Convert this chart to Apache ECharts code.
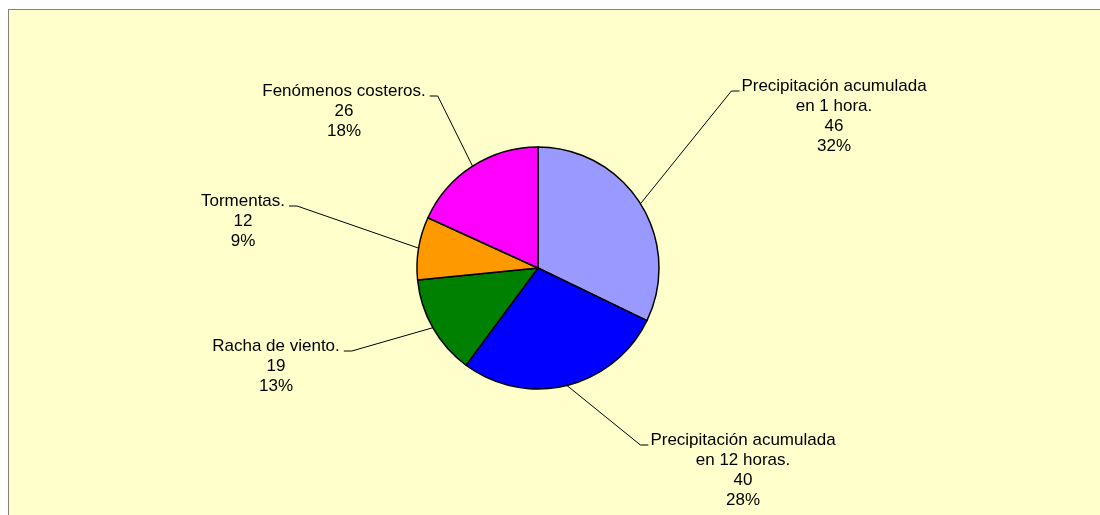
<!DOCTYPE html>
<html>
<head>
<meta charset="utf-8">
<title>Avisos</title>
<script src="https://cdn.jsdelivr.net/npm/echarts@6/dist/echarts.min.js"></script>
<style>
  html, body {
    margin: 0;
    background: #fff;
    overflow: hidden;
  }
  .marco {
    position: absolute;
    left: 8px;
    top: 9px;
    right: 0;
    bottom: 0;
    background: #ffffcc;
    border-left: 1px solid #808080;
    border-top: 1px solid #808080;
  }
  #grafico {
    position: absolute;
    left: 0;
    top: 0;
    width: 1100px;
    height: 515px;
  }
</style>
</head>
<body>
<div class="marco"></div>
<div id="grafico"></div>
<script>
// datos del grafico
var categorias = [
  "Precipitación acumulada\nen 1 hora.",
  "Precipitación acumulada\nen 12 horas.",
  "Racha de viento.",
  "Tormentas.",
  "Fenómenos costeros."
];
var valores = [46, 40, 19, 12, 26];
var colores = ["#9999FF", "#0000FF", "#008000", "#FF9900", "#FF00FF"];

// posicion de cada etiqueta (centro x, borde superior y)
var etiquetaX = [834, 743, 276, 243, 344];
var etiquetaY = [76, 430, 336, 191, 81];

var datos = categorias.map(function (c, i) {
  return { name: c, value: valores[i], itemStyle: { color: colores[i] } };
});

var grafico = echarts.init(document.getElementById("grafico"));

var option = {
  animation: false,
  series: [
    {
      type: "pie",
      center: [538, 268],
      radius: 121,
      startAngle: 90,
      clockwise: true,
      percentPrecision: 0,
      data: datos,
      emphasis: { disabled: true },
      itemStyle: {
        borderColor: "#000",
        borderWidth: 1.5
      },
      label: {
        show: true,
        position: "outside",
        formatter: "{b}\n{c}\n{d}%",
        color: "#000",
        fontFamily: "Liberation Sans, Arial, sans-serif",
        fontSize: 17,
        lineHeight: 20,
        align: "center"
      },
      labelLine: {
        show: true,
        length: 20,
        length2: 8,
        lineStyle: { color: "#000", width: 1 }
      },
      // etiquetas colocadas como en el original, con la linea al primer renglon
      labelLayout: function (params) {
        var i = params.dataIndex;
        var w = params.labelRect.width;
        var x = etiquetaX[i];
        var y = etiquetaY[i];
        var pts = params.labelLinePoints;
        var derecha = x > 538;
        var finX = derecha ? x - w / 2 - 2 : x + w / 2 + 4;
        var finY = y + 15;
        var codoX = derecha ? finX - 8 : finX + 8;
        return {
          x: x,
          y: y,
          align: "center",
          verticalAlign: "top",
          labelLinePoints: [pts[0], [codoX, finY], [finX, finY]]
        };
      }
    }
  ]
};

grafico.setOption(option, true);
</script>
</body>
</html>
